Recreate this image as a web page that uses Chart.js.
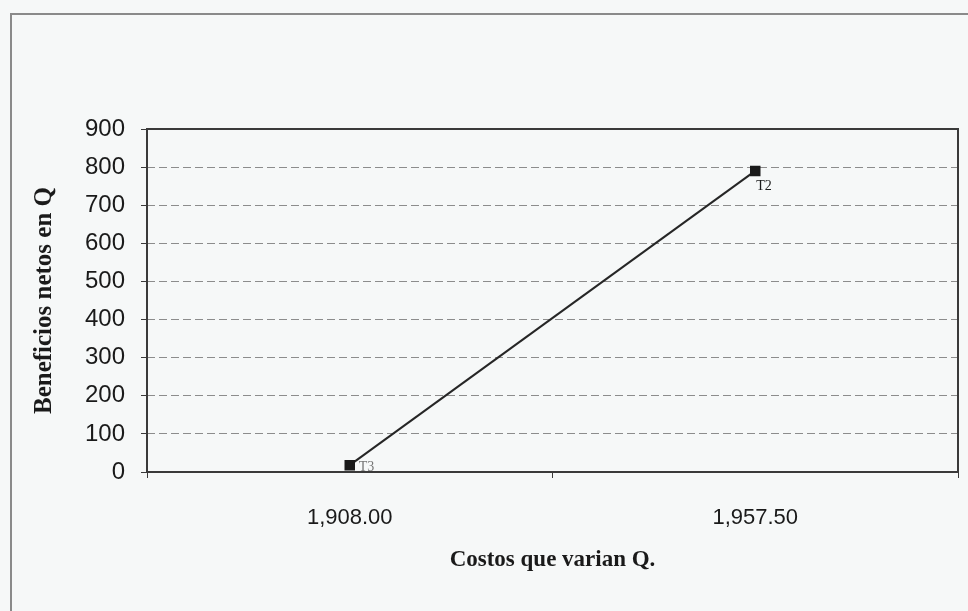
<!DOCTYPE html>
<html>
<head>
<meta charset="utf-8">
<script src="https://cdn.jsdelivr.net/npm/chart.js@4/dist/chart.umd.min.js"></script>
<style>
  html, body { margin: 0; padding: 0; background: #f6f8f8; }
  #wrap { width: 968px; height: 611px; position: relative; }
</style>
</head>
<body>
<div id="wrap"><canvas id="c" width="968" height="611"></canvas></div>
<script>
// Costos que varian (categories) and beneficios netos per treatment
const categories = ['1,908.00', '1,957.50'];
const beneficios = [18, 790];
const pointNames = ['T3', 'T2'];
const yTicks = [0, 100, 200, 300, 400, 500, 600, 700, 800, 900];

// Background, outer frame and plot rectangle
const framePlugin = {
  id: 'frame',
  beforeDraw(chart) {
    const ctx = chart.ctx;
    ctx.save();
    ctx.fillStyle = '#f6f8f8';
    ctx.fillRect(0, 0, chart.width, chart.height);
    ctx.strokeStyle = '#8a8a8a';
    ctx.lineWidth = 2;
    ctx.beginPath();
    ctx.moveTo(11, chart.height);
    ctx.lineTo(11, 14);
    ctx.lineTo(chart.width, 14);
    ctx.stroke();
    ctx.restore();
  },
  beforeDatasetsDraw(chart) {
    const a = chart.chartArea;
    const ctx = chart.ctx;
    ctx.save();
    ctx.strokeStyle = '#3a3a3a';
    ctx.lineWidth = 2;
    ctx.strokeRect(a.left, a.top, a.right - a.left, a.bottom - a.top);
    ctx.restore();
  }
};

// Treatment names next to each point
const labelPlugin = {
  id: 'pointNames',
  afterDatasetsDraw(chart) {
    const meta = chart.getDatasetMeta(0);
    const ctx = chart.ctx;
    ctx.save();
    ctx.font = '14px "Liberation Serif", "Times New Roman", serif';
    ctx.textBaseline = 'middle';
    ctx.textAlign = 'left';
    meta.data.forEach((pt, i) => {
      const below = i === 1;
      ctx.fillStyle = below ? '#1a1a1a' : '#777';
      ctx.fillText(pointNames[i], pt.x + (below ? 1 : 9), pt.y + (below ? 15 : 2));
    });
    ctx.restore();
  }
};

new Chart(document.getElementById('c'), {
  type: 'line',
  data: {
    labels: categories,
    datasets: [{
      data: beneficios,
      borderColor: '#262626',
      borderWidth: 2,
      pointStyle: 'rect',
      pointRadius: 6,
      pointHoverRadius: 6,
      pointBackgroundColor: '#1a1a1a',
      pointBorderColor: '#1a1a1a',
      tension: 0,
      clip: false
    }]
  },
  options: {
    responsive: false,
    animation: false,
    events: [],
    layout: { padding: { top: 129, right: 10, left: 0, bottom: 0 } },
    plugins: { legend: { display: false }, tooltip: { enabled: false } },
    scales: {
      x: {
        type: 'category',
        offset: true,
        afterFit: s => { s.height = 139; },
        grid: { offset: true, drawOnChartArea: false, drawTicks: true, tickLength: 6, color: '#3a3a3a', lineWidth: 1 },
        border: { display: false },
        ticks: {
          padding: 27,
          color: '#1a1a1a',
          font: { family: 'Arial, "Liberation Sans", sans-serif', size: 22 }
        },
        title: {
          display: true,
          text: 'Costos que varian Q.',
          color: '#1a1a1a',
          font: { family: '"Liberation Serif", "Times New Roman", serif', size: 23, weight: 'bold' },
          padding: { top: 0, bottom: 37 }
        }
      },
      y: {
        min: 0,
        max: 900,
        afterFit: s => { s.width = 147; },
        afterBuildTicks: s => { s.ticks = yTicks.map(v => ({ value: v })); },
        grid: {
          color: ctx => (ctx.tick && (ctx.tick.value === 0 || ctx.tick.value === 900)) ? 'rgba(0,0,0,0)' : '#8c8c8c',
          borderDash: [8, 4],
          tickColor: '#3a3a3a',
          tickBorderDash: [],
          tickLength: 6,
          lineWidth: 1
        },
        border: { display: false, dash: [8, 4] },
        ticks: {
          padding: 16,
          color: '#1a1a1a',
          font: { family: 'Arial, "Liberation Sans", sans-serif', size: 24 }
        },
        title: {
          display: true,
          text: 'Beneficios netos en Q',
          color: '#1a1a1a',
          font: { family: '"Liberation Serif", "Times New Roman", serif', size: 25, weight: 'bold' },
          padding: { top: 30, bottom: 0 }
        }
      }
    }
  },
  plugins: [framePlugin, labelPlugin]
});
</script>
</body>
</html>
